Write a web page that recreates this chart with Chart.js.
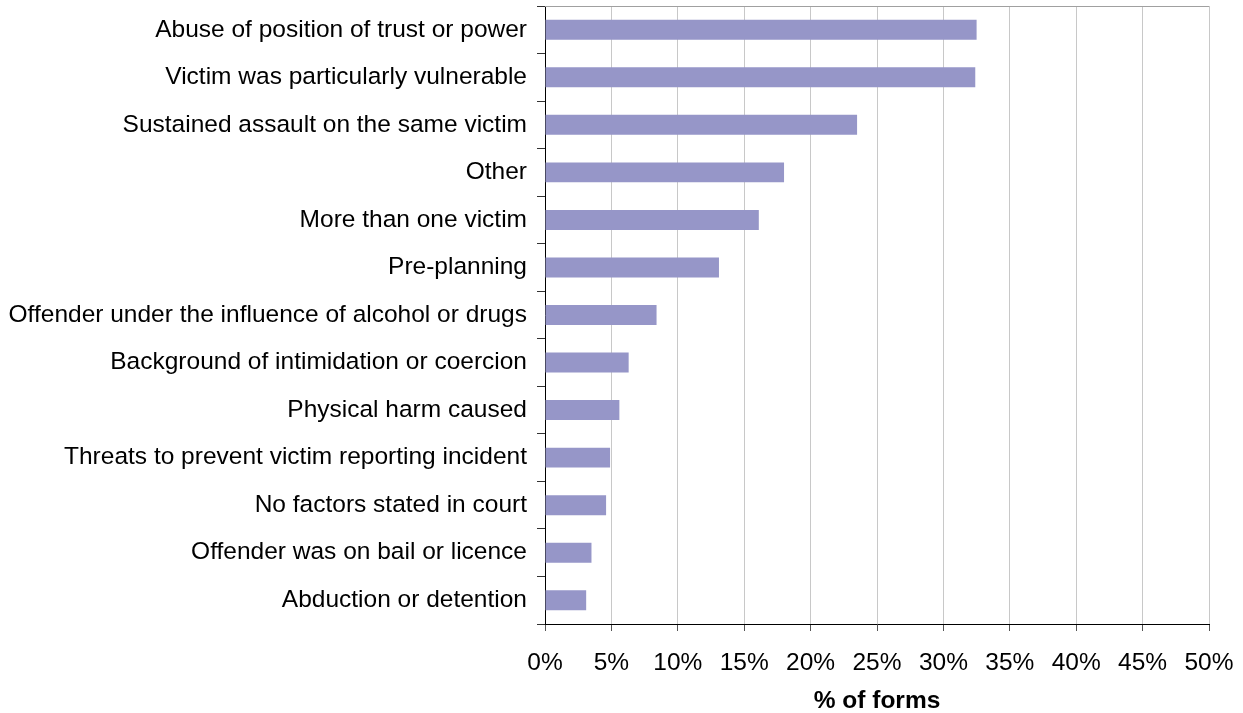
<!DOCTYPE html>
<html>
<head>
<meta charset="utf-8">
<script src="https://cdn.jsdelivr.net/npm/chart.js@4/dist/chart.umd.min.js"></script>
<style>
  html, body { margin: 0; padding: 0; background: #ffffff; }
  #wrap { width: 1243px; height: 713px; position: relative; }
</style>
</head>
<body>
<div id="wrap"><canvas id="chart"></canvas></div>
<script>
// Aggravating factors, share of forms (%)
const factors = [
  "Abuse of position of trust or power",
  "Victim was particularly vulnerable",
  "Sustained assault on the same victim",
  "Other",
  "More than one victim",
  "Pre-planning",
  "Offender under the influence of alcohol or drugs",
  "Background of intimidation or coercion",
  "Physical harm caused",
  "Threats to prevent victim reporting incident",
  "No factors stated in court",
  "Offender was on bail or licence",
  "Abduction or detention"
];
const percentOfForms = [32.5, 32.4, 23.5, 18.0, 16.1, 13.1, 8.4, 6.3, 5.6, 4.9, 4.6, 3.5, 3.1];
const xTickValues = [0, 5, 10, 15, 20, 25, 30, 35, 40, 45, 50];
const xAxisTitle = "% of forms";

const FONT = 'Liberation Sans, Arial, sans-serif';

// Thin grey frame line along the top of the plot area
const topFrame = {
  id: 'topFrame',
  afterDraw(chart) {
    const { ctx, chartArea } = chart;
    ctx.save();
    ctx.strokeStyle = '#a0a0a0';
    ctx.lineWidth = 1;
    ctx.beginPath();
    ctx.moveTo(chartArea.left, Math.round(chartArea.top) + 0.5);
    ctx.lineTo(chartArea.right, Math.round(chartArea.top) + 0.5);
    ctx.stroke();
    ctx.restore();
  }
};

new Chart(document.getElementById('chart'), {
  type: 'bar',
  data: {
    labels: factors,
    datasets: [{
      data: percentOfForms,
      backgroundColor: '#9696c8',
      borderWidth: 0,
      barPercentage: 0.42,
      categoryPercentage: 1.0
    }]
  },
  options: {
    indexAxis: 'y',
    responsive: true,
    maintainAspectRatio: false,
    animation: false,
    layout: { padding: { left: 0, right: 34, top: 6, bottom: 0 } },
    plugins: {
      legend: { display: false },
      tooltip: { enabled: false }
    },
    scales: {
      x: {
        min: 0,
        max: 50,
        afterBuildTicks(axis) {
          axis.ticks = xTickValues.map(v => ({ value: v }));
        },
        afterFit(axis) {
          axis.height = 89;
          axis.paddingLeft = 0;
          axis.paddingRight = 0;
        },
        ticks: {
          callback: v => v + '%',
          color: '#000',
          font: { family: FONT, size: 24.5, lineHeight: 1 },
          padding: 20,
          maxRotation: 0
        },
        grid: {
          color: '#c8c8c8',
          tickColor: '#555',
          tickLength: 7,
          lineWidth: 1
        },
        border: { color: '#000', width: 1 },
        title: {
          display: true,
          text: xAxisTitle,
          color: '#000',
          font: { family: FONT, size: 24.5, weight: 'bold', lineHeight: 1 },
          padding: { top: 13, bottom: 0 }
        }
      },
      y: {
        afterFit(axis) {
          axis.width = 545;
          axis.paddingTop = 0;
          axis.paddingBottom = 0;
        },
        ticks: {
          color: '#000',
          font: { family: FONT, size: 24.5 },
          padding: 10
        },
        grid: {
          display: true,
          drawOnChartArea: false,
          offset: true,
          tickColor: '#333',
          tickLength: 8
        },
        border: { color: '#000', width: 1 }
      }
    }
  },
  plugins: [topFrame]
});
</script>
</body>
</html>
